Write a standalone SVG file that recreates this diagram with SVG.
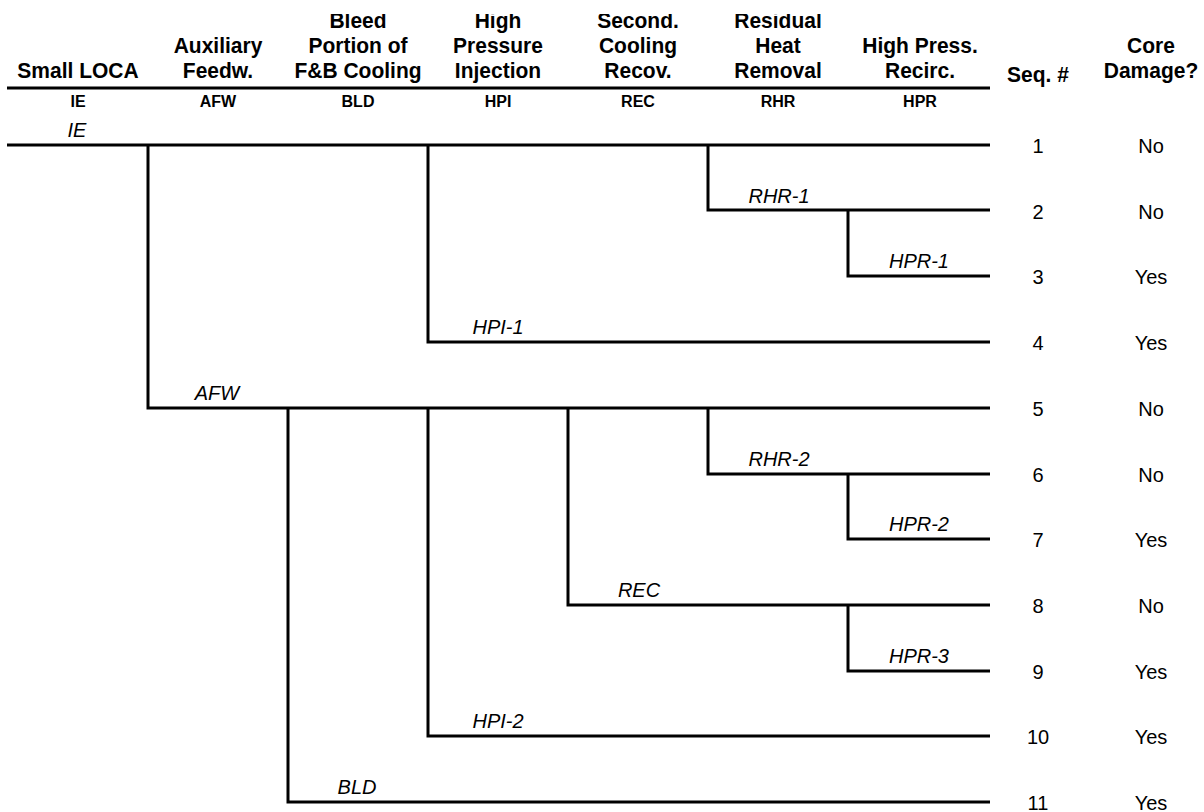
<svg xmlns="http://www.w3.org/2000/svg" width="1204" height="812" viewBox="0 0 1204 812">
  <defs>
    <clipPath id="hdrclip"><rect x="0" y="14" width="1204" height="80"/></clipPath>
  </defs>
  <style>
    .hd { font-family: "Liberation Sans", Arial, sans-serif; font-weight: bold; font-size: 21px; fill: #000; text-anchor: middle; transform-box: fill-box; transform-origin: 50% 100%; transform: scaleY(1.08); }
    .cd { font-family: "Liberation Sans", Arial, sans-serif; font-weight: bold; font-size: 16px; fill: #000; text-anchor: middle; }
    .lb { font-family: "Liberation Sans", Arial, sans-serif; font-style: italic; font-size: 20px; fill: #000; text-anchor: middle; }
    .nm { font-family: "Liberation Sans", Arial, sans-serif; font-size: 20px; fill: #000; text-anchor: middle; }
    .ln { fill: none; stroke: #000; stroke-width: 3; stroke-linejoin: miter; stroke-linecap: butt; }
  </style>
  <rect width="1204" height="812" fill="#fff"/>

  <g id="header" clip-path="url(#hdrclip)">
    <text class="hd" x="78" y="78">Small LOCA</text>
    <text class="hd" x="218" y="53">Auxiliary</text>
    <text class="hd" x="218" y="78">Feedw.</text>
    <text class="hd" x="358" y="28">Bleed</text>
    <text class="hd" x="358" y="53">Portion of</text>
    <text class="hd" x="358" y="78">F&amp;B Cooling</text>
    <text class="hd" x="498" y="28">High</text>
    <text class="hd" x="498" y="53">Pressure</text>
    <text class="hd" x="498" y="78">Injection</text>
    <text class="hd" x="638" y="28">Second.</text>
    <text class="hd" x="638" y="53">Cooling</text>
    <text class="hd" x="638" y="78">Recov.</text>
    <text class="hd" x="778" y="28">Residual</text>
    <text class="hd" x="778" y="53">Heat</text>
    <text class="hd" x="778" y="78">Removal</text>
    <text class="hd" x="920" y="53">High Press.</text>
    <text class="hd" x="920" y="78">Recirc.</text>
    <text class="hd" x="1038" y="82">Seq. #</text>
    <text class="hd" x="1151" y="53">Core</text>
    <text class="hd" x="1151" y="78">Damage?</text>
  </g>
  <line class="ln" x1="7" y1="88" x2="990" y2="88"/>
  <g id="codes">
    <text class="cd" x="78" y="107">IE</text>
    <text class="cd" x="218" y="107">AFW</text>
    <text class="cd" x="358" y="107">BLD</text>
    <text class="cd" x="498" y="107">HPI</text>
    <text class="cd" x="638" y="107">REC</text>
    <text class="cd" x="778" y="107">RHR</text>
    <text class="cd" x="920" y="107">HPR</text>
  </g>

  <g id="connectors">
    <path class="ln" d="M7 145 H990"/>
    <path class="ln" d="M708 145 V210 H990"/>
    <path class="ln" d="M848 210 V276 H990"/>
    <path class="ln" d="M428 145 V342 H990"/>
    <path class="ln" d="M148 145 V408 H990"/>
    <path class="ln" d="M708 408 V474 H990"/>
    <path class="ln" d="M848 474 V539 H990"/>
    <path class="ln" d="M568 408 V605 H990"/>
    <path class="ln" d="M848 605 V671 H990"/>
    <path class="ln" d="M428 408 V736 H990"/>
    <path class="ln" d="M288 408 V802 H990"/>
  </g>

  <g id="branch-labels">
    <text class="lb" x="77" y="137">IE</text>
    <text class="lb" x="779" y="203">RHR-1</text>
    <text class="lb" x="919" y="268">HPR-1</text>
    <text class="lb" x="498" y="334">HPI-1</text>
    <text class="lb" x="217" y="400">AFW</text>
    <text class="lb" x="779" y="466">RHR-2</text>
    <text class="lb" x="919" y="531">HPR-2</text>
    <text class="lb" x="639" y="597">REC</text>
    <text class="lb" x="919" y="663">HPR-3</text>
    <text class="lb" x="498" y="728">HPI-2</text>
    <text class="lb" x="357" y="794">BLD</text>
  </g>

  <g id="seq-1"><text class="nm" x="1038" y="153">1</text><text class="nm" x="1151" y="153">No</text></g>
  <g id="seq-2"><text class="nm" x="1038" y="219">2</text><text class="nm" x="1151" y="219">No</text></g>
  <g id="seq-3"><text class="nm" x="1038" y="284">3</text><text class="nm" x="1151" y="284">Yes</text></g>
  <g id="seq-4"><text class="nm" x="1038" y="350">4</text><text class="nm" x="1151" y="350">Yes</text></g>
  <g id="seq-5"><text class="nm" x="1038" y="416">5</text><text class="nm" x="1151" y="416">No</text></g>
  <g id="seq-6"><text class="nm" x="1038" y="482">6</text><text class="nm" x="1151" y="482">No</text></g>
  <g id="seq-7"><text class="nm" x="1038" y="547">7</text><text class="nm" x="1151" y="547">Yes</text></g>
  <g id="seq-8"><text class="nm" x="1038" y="613">8</text><text class="nm" x="1151" y="613">No</text></g>
  <g id="seq-9"><text class="nm" x="1038" y="679">9</text><text class="nm" x="1151" y="679">Yes</text></g>
  <g id="seq-10"><text class="nm" x="1038" y="744">10</text><text class="nm" x="1151" y="744">Yes</text></g>
  <g id="seq-11"><text class="nm" x="1038" y="810">11</text><text class="nm" x="1151" y="810">Yes</text></g>
</svg>
